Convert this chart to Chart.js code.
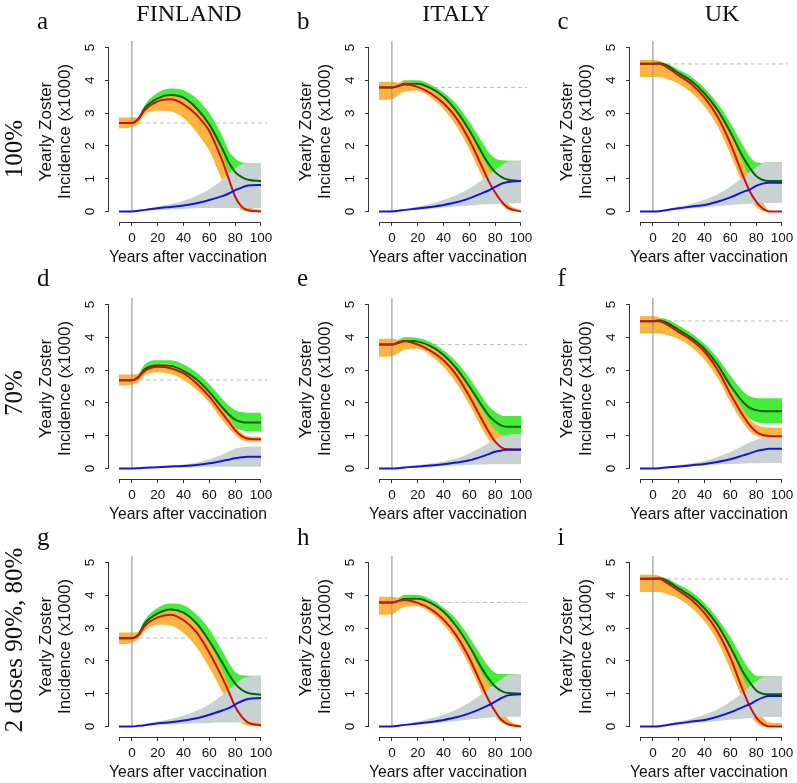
<!DOCTYPE html>
<html>
<head>
<meta charset="utf-8">
<script src="https://cdn.jsdelivr.net/npm/chart.js@4.4.1/dist/chart.umd.min.js"></script>
<style>
  html, body { margin: 0; padding: 0; background: #fff; overflow: hidden; }
  #fig { position: relative; width: 797px; height: 783px; }
  .panel { position: absolute; width: 245px; height: 249px; }
  #labels { position: absolute; left: 0; top: 0; pointer-events: none; }
  #labels text { font-family: 'Liberation Serif', 'Times New Roman', serif; fill: #111; }
</style>
</head>
<body>
<div id="fig"></div>
<script>
// axes / categories
var years = [-10, 0, 5, 10, 20, 30, 40, 50, 60, 70, 75, 80, 85, 90, 100];
var xTicks = [-10, 0, 20, 40, 60, 80, 100];
var yTicks = [0, 1, 2, 3, 4, 5];
var countries = ['FINLAND', 'ITALY', 'UK'];
var scenarios = ['100%', '70%', '2 doses 90%, 80%'];
var letters = ['a', 'b', 'c', 'd', 'e', 'f', 'g', 'h', 'i'];
var baseline = [2.7, 3.78, 4.5];
var xTitle = 'Years after vaccination';
var yTitle = ['Yearly Zoster', 'Incidence (x1000)'];

// a: Finland 100%
var aRed   = [2.70, 2.70, 2.82, 3.10, 3.36, 3.42, 3.27, 2.95, 2.45, 1.55, 1.00, 0.45, 0.15, 0.04, 0.00];
var aRedLo = [2.53, 2.58, 2.68, 2.95, 3.07, 3.05, 2.85, 2.42, 1.85, 0.95, 0.60, 0.25, 0.05, 0.00, 0.00];
var aRedHi = [2.87, 2.87, 2.88, 3.15, 3.47, 3.55, 3.45, 3.10, 2.58, 1.75, 1.20, 0.70, 0.35, 0.15, 0.05];
var aGrn   = [2.70, 2.70, 2.82, 3.15, 3.45, 3.55, 3.47, 3.15, 2.65, 1.92, 1.50, 1.20, 1.05, 0.97, 0.93];
var aGrnLo = [2.70, 2.70, 2.75, 3.00, 3.20, 3.20, 3.00, 2.60, 2.00, 1.30, 1.00, 0.85, 0.70, 0.55, 0.45];
var aGrnHi = [2.70, 2.70, 2.88, 3.25, 3.62, 3.75, 3.70, 3.45, 3.00, 2.30, 1.85, 1.62, 1.50, 1.48, 1.48];
var aBlu   = [0, 0, 0.02, 0.05, 0.10, 0.14, 0.18, 0.25, 0.35, 0.47, 0.55, 0.65, 0.73, 0.79, 0.81];
var aBluLo = [0, 0, 0.01, 0.02, 0.04, 0.06, 0.08, 0.10, 0.11, 0.11, 0.11, 0.11, 0.11, 0.11, 0.11];
var aBluHi = [0, 0, 0.03, 0.07, 0.15, 0.23, 0.33, 0.48, 0.68, 0.97, 1.15, 1.32, 1.44, 1.48, 1.48];

// b: Italy 100%
var bRed   = [3.78, 3.78, 3.83, 3.87, 3.80, 3.60, 3.30, 2.85, 2.18, 1.35, 0.92, 0.58, 0.30, 0.11, 0.00];
var bRedLo = [3.40, 3.42, 3.55, 3.65, 3.68, 3.48, 3.12, 2.60, 1.90, 1.05, 0.65, 0.35, 0.20, 0.05, 0.00];
var bRedHi = [3.96, 3.96, 3.93, 3.95, 3.92, 3.78, 3.52, 3.08, 2.45, 1.65, 1.32, 1.00, 0.60, 0.25, 0.02];
var bGrn   = [3.78, 3.78, 3.83, 3.90, 3.90, 3.76, 3.50, 3.06, 2.47, 1.77, 1.45, 1.20, 1.05, 0.97, 0.93];
var bGrnLo = [3.78, 3.78, 3.78, 3.80, 3.75, 3.55, 3.20, 2.70, 2.00, 1.30, 1.05, 0.85, 0.65, 0.50, 0.40];
var bGrnHi = [3.78, 3.78, 3.90, 4.00, 4.00, 3.87, 3.62, 3.27, 2.73, 2.11, 1.80, 1.62, 1.56, 1.55, 1.55];
var bBlu   = [0, 0, 0.02, 0.05, 0.09, 0.14, 0.20, 0.28, 0.40, 0.56, 0.64, 0.75, 0.85, 0.90, 0.93];
var bBluLo = [0, 0, 0.01, 0.02, 0.05, 0.08, 0.12, 0.15, 0.18, 0.21, 0.22, 0.23, 0.24, 0.25, 0.25];
var bBluHi = [0, 0, 0.03, 0.07, 0.15, 0.24, 0.35, 0.50, 0.70, 0.97, 1.12, 1.27, 1.42, 1.52, 1.55];

// c: UK 100%
var cRed   = [4.51, 4.51, 4.51, 4.42, 4.15, 3.88, 3.47, 2.90, 2.08, 1.07, 0.62, 0.30, 0.09, 0.00, 0.00];
var cRedLo = [4.10, 4.10, 4.10, 4.05, 3.90, 3.62, 3.20, 2.60, 1.75, 0.80, 0.40, 0.15, 0.02, 0.00, 0.00];
var cRedHi = [4.63, 4.63, 4.60, 4.50, 4.25, 4.00, 3.62, 3.10, 2.38, 1.45, 1.02, 0.65, 0.30, 0.02, 0.00];
var cGrn   = [4.51, 4.51, 4.52, 4.47, 4.22, 3.97, 3.60, 3.10, 2.42, 1.65, 1.33, 1.08, 0.96, 0.93, 0.93];
var cGrnLo = [4.51, 4.51, 4.45, 4.35, 4.05, 3.75, 3.35, 2.80, 2.00, 1.20, 0.95, 0.80, 0.65, 0.55, 0.50];
var cGrnHi = [4.51, 4.51, 4.56, 4.52, 4.32, 4.10, 3.76, 3.30, 2.70, 2.00, 1.68, 1.50, 1.48, 1.50, 1.50];
var cBlu   = [0, 0, 0.01, 0.04, 0.10, 0.15, 0.20, 0.30, 0.43, 0.60, 0.67, 0.78, 0.85, 0.88, 0.88];
var cBluLo = [0, 0, 0.01, 0.02, 0.05, 0.09, 0.13, 0.17, 0.20, 0.23, 0.24, 0.25, 0.26, 0.26, 0.26];
var cBluHi = [0, 0, 0.02, 0.06, 0.15, 0.24, 0.36, 0.52, 0.76, 1.05, 1.20, 1.35, 1.47, 1.50, 1.50];

// d: Finland 70%
var dRed   = [2.69, 2.69, 2.78, 2.98, 3.10, 3.06, 2.91, 2.60, 2.19, 1.68, 1.43, 1.17, 0.99, 0.91, 0.89];
var dRedLo = [2.53, 2.55, 2.65, 2.85, 2.93, 2.88, 2.70, 2.40, 2.00, 1.48, 1.24, 1.02, 0.88, 0.83, 0.82];
var dRedHi = [2.87, 2.87, 2.88, 3.08, 3.20, 3.17, 3.02, 2.74, 2.34, 1.85, 1.58, 1.30, 1.08, 0.98, 0.96];
var dGrn   = [2.69, 2.69, 2.80, 3.03, 3.15, 3.13, 2.98, 2.72, 2.33, 1.86, 1.65, 1.49, 1.42, 1.40, 1.40];
var dGrnLo = [2.69, 2.69, 2.75, 2.90, 3.00, 2.95, 2.80, 2.50, 2.10, 1.60, 1.40, 1.24, 1.17, 1.14, 1.13];
var dGrnHi = [2.69, 2.69, 2.88, 3.18, 3.30, 3.30, 3.17, 2.93, 2.57, 2.12, 1.92, 1.78, 1.72, 1.70, 1.70];
var dBlu   = [0, 0, 0.01, 0.02, 0.04, 0.06, 0.08, 0.11, 0.16, 0.23, 0.27, 0.31, 0.34, 0.36, 0.36];
var dBluLo = [0, 0, 0, 0.01, 0.02, 0.03, 0.03, 0.04, 0.05, 0.05, 0.05, 0.05, 0.05, 0.05, 0.05];
var dBluHi = [0, 0, 0.01, 0.03, 0.06, 0.09, 0.12, 0.18, 0.28, 0.43, 0.52, 0.60, 0.65, 0.67, 0.67];

// e: Italy 70%
var eRed   = [3.78, 3.78, 3.83, 3.88, 3.78, 3.59, 3.30, 2.85, 2.20, 1.47, 1.12, 0.82, 0.64, 0.58, 0.57];
var eRedLo = [3.40, 3.42, 3.52, 3.63, 3.65, 3.45, 3.10, 2.60, 1.95, 1.20, 0.88, 0.62, 0.50, 0.45, 0.43];
var eRedHi = [3.96, 3.96, 3.93, 3.96, 3.90, 3.73, 3.46, 3.05, 2.45, 1.78, 1.45, 1.18, 1.03, 0.95, 0.90];
var eGrn   = [3.78, 3.78, 3.85, 3.90, 3.87, 3.73, 3.46, 3.05, 2.50, 1.90, 1.62, 1.43, 1.31, 1.27, 1.27];
var eGrnLo = [3.78, 3.78, 3.78, 3.80, 3.75, 3.60, 3.30, 2.85, 2.25, 1.60, 1.30, 1.10, 1.00, 0.98, 0.97];
var eGrnHi = [3.78, 3.78, 3.92, 4.00, 3.98, 3.85, 3.60, 3.25, 2.76, 2.17, 1.90, 1.72, 1.62, 1.60, 1.60];
var eBlu   = [0, 0, 0.01, 0.03, 0.06, 0.09, 0.13, 0.18, 0.25, 0.37, 0.44, 0.51, 0.55, 0.58, 0.58];
var eBluLo = [0, 0, 0, 0.01, 0.03, 0.05, 0.07, 0.09, 0.11, 0.12, 0.13, 0.13, 0.13, 0.13, 0.13];
var eBluHi = [0, 0, 0.02, 0.04, 0.10, 0.15, 0.21, 0.31, 0.46, 0.66, 0.78, 0.90, 0.98, 1.03, 1.05];

// f: UK 70%
var fRed   = [4.49, 4.49, 4.49, 4.41, 4.16, 3.91, 3.56, 3.02, 2.28, 1.60, 1.32, 1.12, 1.02, 0.99, 0.98];
var fRedLo = [4.12, 4.12, 4.12, 4.08, 3.95, 3.70, 3.32, 2.77, 2.02, 1.38, 1.14, 1.00, 0.96, 0.95, 0.95];
var fRedHi = [4.65, 4.65, 4.60, 4.50, 4.26, 4.00, 3.66, 3.14, 2.45, 1.80, 1.52, 1.34, 1.27, 1.25, 1.24];
var fGrn   = [4.49, 4.49, 4.52, 4.46, 4.23, 3.98, 3.65, 3.17, 2.53, 2.02, 1.85, 1.78, 1.75, 1.75, 1.75];
var fGrnLo = [4.49, 4.49, 4.45, 4.35, 4.10, 3.85, 3.50, 2.98, 2.25, 1.70, 1.52, 1.42, 1.38, 1.37, 1.37];
var fGrnHi = [4.49, 4.49, 4.58, 4.56, 4.36, 4.12, 3.80, 3.38, 2.83, 2.35, 2.20, 2.15, 2.14, 2.14, 2.14];
var fBlu   = [0, 0, 0.01, 0.03, 0.06, 0.10, 0.14, 0.20, 0.28, 0.40, 0.46, 0.53, 0.57, 0.60, 0.60];
var fBluLo = [0, 0, 0, 0.01, 0.03, 0.06, 0.09, 0.12, 0.14, 0.15, 0.16, 0.16, 0.17, 0.17, 0.17];
var fBluHi = [0, 0, 0.02, 0.05, 0.11, 0.16, 0.23, 0.35, 0.50, 0.70, 0.80, 0.88, 0.94, 0.97, 0.98];

// g: Finland 2 doses
var gRed   = [2.69, 2.69, 2.78, 3.07, 3.33, 3.41, 3.24, 2.88, 2.25, 1.49, 1.06, 0.60, 0.30, 0.12, 0.03];
var gRedLo = [2.51, 2.55, 2.68, 2.92, 3.10, 3.08, 2.85, 2.42, 1.80, 1.05, 0.65, 0.30, 0.10, 0.03, 0.00];
var gRedHi = [2.87, 2.87, 2.88, 3.15, 3.45, 3.56, 3.45, 3.10, 2.55, 1.72, 1.25, 0.78, 0.42, 0.20, 0.12];
var gGrn   = [2.69, 2.69, 2.80, 3.15, 3.45, 3.57, 3.47, 3.15, 2.60, 1.95, 1.60, 1.31, 1.12, 1.02, 0.97];
var gGrnLo = [2.69, 2.69, 2.75, 3.00, 3.20, 3.20, 3.00, 2.60, 2.00, 1.30, 1.00, 0.85, 0.70, 0.55, 0.50];
var gGrnHi = [2.69, 2.69, 2.88, 3.25, 3.62, 3.75, 3.70, 3.42, 2.96, 2.30, 1.95, 1.66, 1.56, 1.55, 1.55];
var gBlu   = [0, 0, 0.02, 0.04, 0.10, 0.13, 0.18, 0.25, 0.36, 0.49, 0.56, 0.67, 0.77, 0.84, 0.87];
var gBluLo = [0, 0, 0.01, 0.02, 0.04, 0.06, 0.08, 0.10, 0.11, 0.12, 0.12, 0.13, 0.13, 0.13, 0.13];
var gBluHi = [0, 0, 0.03, 0.07, 0.15, 0.23, 0.33, 0.48, 0.68, 0.95, 1.12, 1.30, 1.45, 1.52, 1.55];

// h: Italy 2 doses
var hRed   = [3.78, 3.78, 3.83, 3.86, 3.77, 3.58, 3.26, 2.77, 2.08, 1.22, 0.80, 0.46, 0.20, 0.07, 0.00];
var hRedLo = [3.40, 3.42, 3.55, 3.65, 3.67, 3.47, 3.10, 2.58, 1.85, 1.00, 0.60, 0.30, 0.12, 0.03, 0.00];
var hRedHi = [3.96, 3.96, 3.93, 3.95, 3.92, 3.78, 3.50, 3.05, 2.40, 1.60, 1.30, 1.00, 0.55, 0.22, 0.02];
var hGrn   = [3.78, 3.78, 3.83, 3.90, 3.90, 3.77, 3.50, 3.05, 2.45, 1.75, 1.45, 1.22, 1.08, 1.02, 1.00];
var hGrnLo = [3.78, 3.78, 3.78, 3.80, 3.75, 3.55, 3.20, 2.70, 2.00, 1.30, 1.05, 0.85, 0.65, 0.50, 0.45];
var hGrnHi = [3.78, 3.78, 3.92, 4.02, 4.02, 3.88, 3.62, 3.26, 2.72, 2.10, 1.82, 1.64, 1.60, 1.60, 1.60];
var hBlu   = [0, 0, 0.02, 0.05, 0.09, 0.14, 0.20, 0.28, 0.40, 0.56, 0.65, 0.76, 0.87, 0.95, 0.98];
var hBluLo = [0, 0, 0.01, 0.02, 0.05, 0.09, 0.13, 0.17, 0.21, 0.25, 0.27, 0.28, 0.29, 0.30, 0.30];
var hBluHi = [0, 0, 0.03, 0.07, 0.15, 0.25, 0.36, 0.52, 0.73, 1.00, 1.15, 1.30, 1.45, 1.57, 1.60];

// i: UK 2 doses
var iRed   = [4.51, 4.51, 4.51, 4.40, 4.14, 3.86, 3.46, 2.90, 2.10, 1.07, 0.62, 0.28, 0.08, 0.00, 0.00];
var iRedLo = [4.10, 4.10, 4.10, 4.05, 3.90, 3.62, 3.20, 2.60, 1.75, 0.80, 0.40, 0.12, 0.00, 0.00, 0.00];
var iRedHi = [4.63, 4.63, 4.60, 4.50, 4.25, 4.00, 3.62, 3.10, 2.38, 1.45, 1.02, 0.60, 0.28, 0.12, 0.10];
var iGrn   = [4.51, 4.51, 4.52, 4.46, 4.21, 3.96, 3.60, 3.10, 2.42, 1.65, 1.35, 1.10, 1.00, 0.98, 0.98];
var iGrnLo = [4.51, 4.51, 4.45, 4.35, 4.05, 3.75, 3.35, 2.80, 2.00, 1.20, 0.95, 0.80, 0.65, 0.55, 0.50];
var iGrnHi = [4.51, 4.51, 4.56, 4.52, 4.32, 4.10, 3.76, 3.30, 2.72, 2.02, 1.72, 1.55, 1.53, 1.53, 1.53];
var iBlu   = [0, 0, 0.01, 0.04, 0.10, 0.15, 0.20, 0.30, 0.43, 0.60, 0.68, 0.79, 0.88, 0.93, 0.93];
var iBluLo = [0, 0, 0.01, 0.02, 0.05, 0.09, 0.13, 0.17, 0.21, 0.24, 0.26, 0.27, 0.28, 0.29, 0.29];
var iBluHi = [0, 0, 0.02, 0.06, 0.15, 0.24, 0.36, 0.52, 0.76, 1.05, 1.22, 1.38, 1.50, 1.53, 1.53];

// [red, redLo, redHi, green, greenLo, greenHi, blue, blueLo, blueHi] per panel, row by row
var panelSeries = [
  [aRed, aRedLo, aRedHi, aGrn, aGrnLo, aGrnHi, aBlu, aBluLo, aBluHi],
  [bRed, bRedLo, bRedHi, bGrn, bGrnLo, bGrnHi, bBlu, bBluLo, bBluHi],
  [cRed, cRedLo, cRedHi, cGrn, cGrnLo, cGrnHi, cBlu, cBluLo, cBluHi],
  [dRed, dRedLo, dRedHi, dGrn, dGrnLo, dGrnHi, dBlu, dBluLo, dBluHi],
  [eRed, eRedLo, eRedHi, eGrn, eGrnLo, eGrnHi, eBlu, eBluLo, eBluHi],
  [fRed, fRedLo, fRedHi, fGrn, fGrnLo, fGrnHi, fBlu, fBluLo, fBluHi],
  [gRed, gRedLo, gRedHi, gGrn, gGrnLo, gGrnHi, gBlu, gBluLo, gBluHi],
  [hRed, hRedLo, hRedHi, hGrn, hGrnLo, hGrnHi, hBlu, hBluLo, hBluHi],
  [iRed, iRedLo, iRedHi, iGrn, iGrnLo, iGrnHi, iBlu, iBluLo, iBluHi]
];

var X_MIN = -17.75, X_MAX = 104.65, Y_MIN = -0.32, Y_MAX = 5.2;

Chart.defaults.font.family = "'Liberation Sans', Arial, sans-serif";
Chart.defaults.color = '#111';

// R style axis lines: only from first to last tick
var axisLines = {
  id: 'axisLines',
  afterDraw: function (chart) {
    var ctx = chart.ctx, area = chart.chartArea, x = chart.scales.x, y = chart.scales.y;
    ctx.save();
    ctx.strokeStyle = '#333';
    ctx.lineWidth = 1;
    ctx.beginPath();
    ctx.moveTo(x.getPixelForValue(xTicks[0]), area.bottom + 0.5);
    ctx.lineTo(x.getPixelForValue(xTicks[xTicks.length - 1]), area.bottom + 0.5);
    ctx.moveTo(area.left - 0.5, y.getPixelForValue(yTicks[0]));
    ctx.lineTo(area.left - 0.5, y.getPixelForValue(yTicks[yTicks.length - 1]));
    ctx.stroke();
    ctx.restore();
  }
};

function pts(arr) {
  return years.map(function (x, i) { return { x: x, y: arr[i] }; });
}

function curve(arr, color, order) {
  return { data: pts(arr), borderColor: color, borderWidth: 2, pointRadius: 0,
           fill: false, order: order, cubicInterpolationMode: 'monotone' };
}

function band(lo, hi, color, order) {
  return [
    { data: pts(lo), borderWidth: 0, borderColor: 'transparent', pointRadius: 0,
      fill: false, order: order + 1, cubicInterpolationMode: 'monotone' },
    { data: pts(hi), borderWidth: 0, borderColor: 'transparent', pointRadius: 0,
      fill: '-1', backgroundColor: color, order: order, cubicInterpolationMode: 'monotone' }
  ];
}

var fig = document.getElementById('fig');
var colLeft = [31, 291, 552];
var rowTop = [21, 278, 536];

panelSeries.forEach(function (s, k) {
  var row = Math.floor(k / 3), col = k % 3;
  var div = document.createElement('div');
  div.className = 'panel';
  div.style.left = colLeft[col] + 'px';
  div.style.top = rowTop[row] + 'px';
  var cv = document.createElement('canvas');
  div.appendChild(cv);
  fig.appendChild(div);

  var base = baseline[col];
  var datasets = [
    { data: [{ x: 0, y: base }, { x: X_MAX, y: base }], borderColor: '#bdbdbd', borderWidth: 1,
      borderDash: [4, 3], pointRadius: 0, fill: false, order: 20 }
  ]
    .concat(band(s[4], s[5], '#46EB3C', 18))
    .concat(band(s[1], s[2], '#FCB441', 16))
    .concat(band(s[7], s[8], '#C9D2D2', 14))
    .concat([
      { data: [{ x: 0, y: 0 }, { x: 0, y: Y_MAX }], borderColor: '#999', borderWidth: 1.2,
        pointRadius: 0, fill: false, order: 12 },
      curve(s[3], '#0A640A', 3),
      curve(s[0], '#C8140A', 2),
      curve(s[6], '#1414DC', 1)
    ]);

  new Chart(cv, {
    type: 'line',
    data: { datasets: datasets },
    plugins: [axisLines],
    options: {
      responsive: true,
      maintainAspectRatio: false,
      animation: false,
      events: [],
      layout: { padding: { top: 20, right: 9, bottom: 0, left: 0 } },
      plugins: { legend: { display: false }, tooltip: { enabled: false } },
      scales: {
        x: {
          type: 'linear', min: X_MIN, max: X_MAX,
          afterBuildTicks: function (sc) { sc.ticks = xTicks.map(function (v) { return { value: v }; }); },
          afterFit: function (sc) { sc.height = 48; sc.paddingLeft = 0; sc.paddingRight = 0; },
          ticks: { font: { size: 13.5 }, color: '#111', padding: 4, maxRotation: 0, autoSkip: false,
                   callback: function (v) { return v === xTicks[0] ? '' : String(v); } },
          grid: { drawOnChartArea: false, drawTicks: true, tickLength: 4, color: '#333' },
          border: { display: false },
          title: { display: true, text: xTitle, color: '#111', font: { size: 17, lineHeight: 1.15 },
                   padding: { top: 0, bottom: 2.7 } }
        },
        y: {
          type: 'linear', min: Y_MIN, max: Y_MAX,
          afterBuildTicks: function (sc) { sc.ticks = yTicks.map(function (v) { return { value: v }; }); },
          afterFit: function (sc) { sc.width = 78; sc.paddingTop = 0; sc.paddingBottom = 0; },
          ticks: { font: { size: 13.5 }, color: '#111', padding: 10.5, minRotation: 90, maxRotation: 90,
                   crossAlign: 'center', autoSkip: false },
          grid: { drawOnChartArea: false, drawTicks: true, tickLength: 4, color: '#333' },
          border: { display: false },
          title: { display: true, text: yTitle, color: '#111', font: { size: 17, lineHeight: 1.15 },
                   padding: { top: 5.2, bottom: 0 } }
        }
      }
    }
  });
});

// figure labels (serif)
var NS = 'http://www.w3.org/2000/svg';
var svg = document.createElementNS(NS, 'svg');
svg.setAttribute('id', 'labels');
svg.setAttribute('width', 797);
svg.setAttribute('height', 783);
fig.appendChild(svg);

function addText(str, x, y, size, anchor, rotate) {
  var t = document.createElementNS(NS, 'text');
  t.textContent = str;
  t.setAttribute('font-size', size);
  t.setAttribute('text-anchor', anchor);
  if (rotate) {
    t.setAttribute('transform', 'translate(' + x + ',' + y + ') rotate(' + rotate + ')');
  } else {
    t.setAttribute('x', x);
    t.setAttribute('y', y);
  }
  svg.appendChild(t);
}

var countryX = [189, 456, 722];
countries.forEach(function (c, i) { addText(c, countryX[i], 21, 24, 'middle'); });

var letterX = [37, 297, 557.5];
var letterY = [28.5, 286, 545];
letters.forEach(function (l, k) { addText(l, letterX[k % 3], letterY[Math.floor(k / 3)], 25, 'start'); });

var scenarioY = [149, 393, 640];
scenarios.forEach(function (s, r) { addText(s, 22, scenarioY[r], 25, 'middle', -90); });
</script>
</body>
</html>
